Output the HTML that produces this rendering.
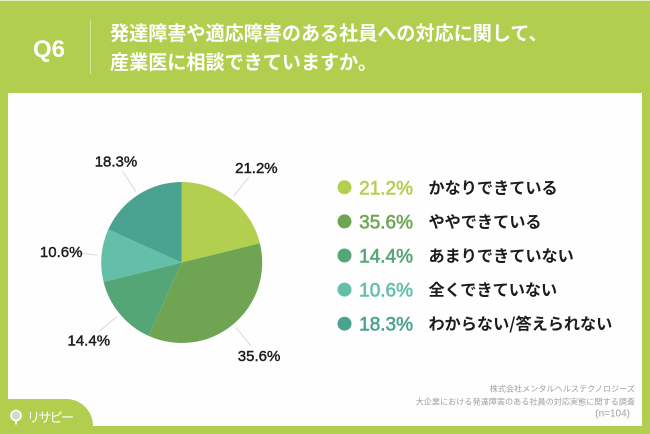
<!DOCTYPE html>
<html lang="ja">
<head>
<meta charset="utf-8">
<title>Q6 産業医への相談</title>
<style>
  html, body { margin: 0; padding: 0; background: #b2ce4f; }
  body { width: 650px; height: 434px; overflow: hidden; }
  svg { display: block; }
  text { font-family: "Liberation Sans", "Noto Sans CJK JP", sans-serif; }
  .jp { font-family: "Noto Sans CJK JP", "Liberation Sans", sans-serif; }
</style>
</head>
<body>
<svg id="chart" xmlns="http://www.w3.org/2000/svg" width="650" height="434" viewBox="0 0 650 434">
  <rect x="0" y="0" width="650" height="434" fill="#b2ce4f"/>
  <rect x="0" y="0" width="650" height="1" fill="#e6efc4"/>
  <text x="49" y="57" text-anchor="middle" font-size="24" font-weight="700" fill="#fff">Q6</text>
  <line x1="90.5" y1="20" x2="90.5" y2="74" stroke="#d3e397" stroke-width="1"/>
  <text class="jp" x="110" y="40" font-size="19.1" font-weight="700" fill="#fff">発達障害や適応障害のある社員への対応に関して、</text>
  <text class="jp" x="110" y="69" font-size="19.1" font-weight="700" fill="#fff">産業医に相談できていますか。</text>

  <rect x="8" y="93" width="634" height="333" fill="#fefefe"/>
  <g id="pie"></g>
  <g id="legend"></g>

  <g fill="#a0a0a0" text-anchor="end">
    <text class="jp" x="635" y="391.5" font-size="8.15">株式会社メンタルヘルステクノロジーズ</text>
    <text class="jp" x="635" y="404.5" font-size="8.15">大企業における発達障害のある社員の対応実態に関する調査</text>
    <text x="630" y="416.5" font-size="10">(n=104)</text>
  </g>

  <g>
    <path d="M0 399 H66 C82 399 93 412 93 426 V434 H0 Z" fill="#b2ce4f"/>
    <circle cx="16" cy="415.5" r="5" fill="#d8d8c8" stroke="#fff" stroke-width="1.6"/>
    <line x1="16" y1="421" x2="16" y2="424.5" stroke="#fff" stroke-width="1.6"/>
    <text class="jp" x="27" y="422" font-size="13" fill="#fff" textLength="47">リサピー</text>
  </g>
</svg>
<script>
var categories = ['かなりできている', 'ややできている', 'あまりできていない', '全くできていない', 'わからない/答えられない'];
var seriesValues = [21.2, 35.6, 14.4, 10.6, 18.3];
var seriesColors = ['#b2cf50', '#6fa552', '#55a677', '#63bfa8', '#4aa291'];

var NS = 'http://www.w3.org/2000/svg';
var pieCx = 181.7, pieCy = 262.5, pieR = 80.5;
var total = seriesValues.reduce(function (a, b) { return a + b; }, 0);

function angleOf(cumulative) { return cumulative / total * Math.PI * 2; }
function px(angle, r) { return pieCx + Math.sin(angle) * r; }
function py(angle, r) { return pieCy - Math.cos(angle) * r; }
function fmt(v) { return v.toFixed(1) + '%'; }

var pie = document.getElementById('pie');
var legend = document.getElementById('legend');
var cumulative = 0;

seriesValues.forEach(function (value, i) {
  var a0 = angleOf(cumulative);
  var a1 = angleOf(cumulative + value);
  var mid = (a0 + a1) / 2;
  cumulative += value;

  var slice = document.createElementNS(NS, 'path');
  
  
  var large = (a1 - a0) > Math.PI ? 1 : 0;
  slice.setAttribute('d', 'M' + pieCx + ' ' + pieCy + ' L' + px(a0, pieR) + ' ' + py(a0, pieR) +
    ' A' + pieR + ' ' + pieR + ' 0 ' + large + ' 1 ' + px(a1, pieR) + ' ' + py(a1, pieR) + ' Z');
  slice.setAttribute('fill', seriesColors[i]);
  pie.appendChild(slice);

  var leader = document.createElementNS(NS, 'line');
  
  
  leader.setAttribute('x1', px(mid, pieR + 4));
  leader.setAttribute('y1', py(mid, pieR + 4));
  leader.setAttribute('x2', px(mid, pieR + 28));
  leader.setAttribute('y2', py(mid, pieR + 28));
  leader.setAttribute('stroke', '#d8d8d8');
  leader.setAttribute('stroke-width', '1');
  pie.appendChild(leader);

  var label = document.createElementNS(NS, 'text');
  
  
  label.setAttribute('x', px(mid, 121));
  label.setAttribute('y', py(mid, 121) + 5.5);
  label.setAttribute('text-anchor', 'middle');
  label.setAttribute('font-size', '15');
  label.setAttribute('fill', '#1c1c1c');
  label.setAttribute('stroke', '#1c1c1c');
  label.setAttribute('stroke-width', '0.45');
  label.textContent = fmt(value);
  pie.appendChild(label);

  var rowY = 187.3 + i * 34.1;

  var dot = document.createElementNS(NS, 'circle');
  
  
  dot.setAttribute('cx', 344.5);
  dot.setAttribute('cy', rowY);
  dot.setAttribute('r', 7);
  dot.setAttribute('fill', seriesColors[i]);
  legend.appendChild(dot);

  var pct = document.createElementNS(NS, 'text');
  
  
  pct.setAttribute('x', 413);
  pct.setAttribute('y', rowY + 7);
  pct.setAttribute('text-anchor', 'end');
  pct.setAttribute('font-size', '19');
  pct.setAttribute('fill', seriesColors[i]);
  pct.setAttribute('stroke', seriesColors[i]);
  pct.setAttribute('stroke-width', '0.6');
  pct.textContent = fmt(value);
  legend.appendChild(pct);

  var name = document.createElementNS(NS, 'text');
  
  
  name.setAttribute('class', 'jp');
  name.setAttribute('x', 428.5);
  name.setAttribute('y', rowY + 6);
  name.setAttribute('font-size', '16.15');
  name.setAttribute('font-weight', '700');
  name.setAttribute('fill', '#1c1c1c');
  name.textContent = categories[i];
  legend.appendChild(name);
});
</script>
</body>
</html>
